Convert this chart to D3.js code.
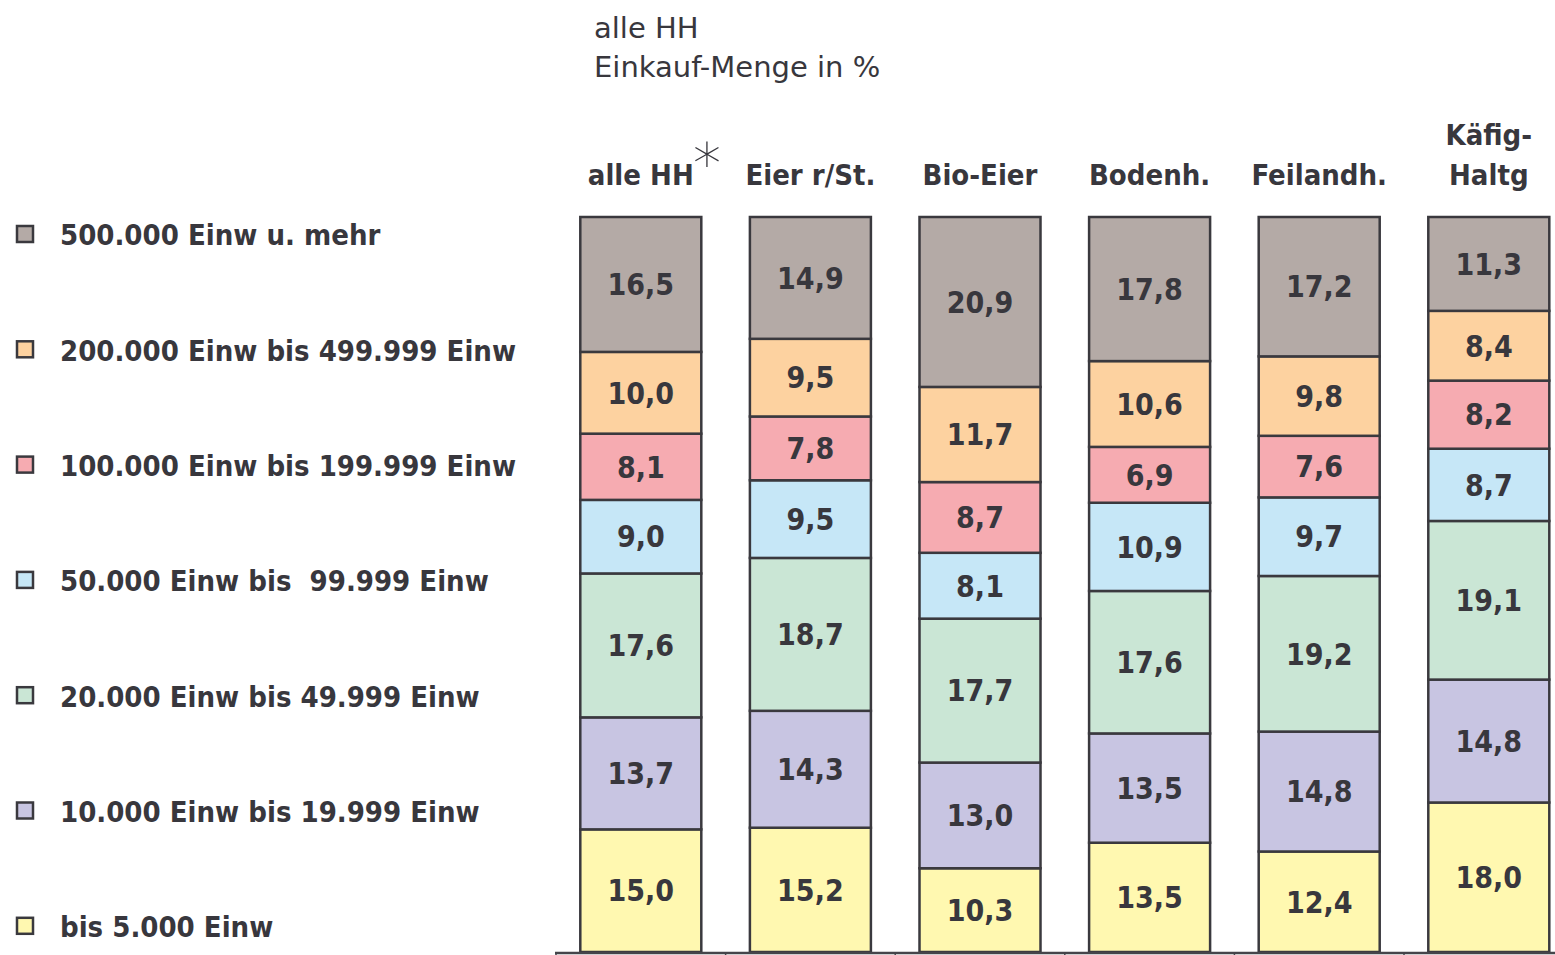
<!DOCTYPE html>
<html>
<head>
<meta charset="utf-8">
<script src="https://cdn.jsdelivr.net/npm/d3@7"></script>
<style>
  body { margin: 0; background: #fff; }
  svg text { font-family: "DejaVu Sans Condensed", "DejaVu Sans", sans-serif; fill: #38373d; }
</style>
</head>
<body>
<div id="chart"></div>
<script>
// Stacked bars, every column drawn to full height

// Data
var categories = ["alle HH", "Eier r/St.", "Bio-Eier", "Bodenh.", "Feilandh.", "Käfig-Haltg"];
var seriesNames = [
  "bis 5.000 Einw",
  "10.000 Einw bis 19.999 Einw",
  "20.000 Einw bis 49.999 Einw",
  "50.000 Einw bis  99.999 Einw",
  "100.000 Einw bis 199.999 Einw",
  "200.000 Einw bis 499.999 Einw",
  "500.000 Einw u. mehr"
];
var bis5000 = [15.0, 15.2, 10.3, 13.5, 12.4, 18.0];
var einw10000 = [13.7, 14.3, 13.0, 13.5, 14.8, 14.8];
var einw20000 = [17.6, 18.7, 17.7, 17.6, 19.2, 19.1];
var einw50000 = [9.0, 9.5, 8.1, 10.9, 9.7, 8.7];
var einw100000 = [8.1, 7.8, 8.7, 6.9, 7.6, 8.2];
var einw200000 = [10.0, 9.5, 11.7, 10.6, 9.8, 8.4];
var einw500000 = [16.5, 14.9, 20.9, 17.8, 17.2, 11.3];
var seriesValues = [bis5000, einw10000, einw20000, einw50000, einw100000, einw200000, einw500000];
var colors = ["#fff8b0", "#c8c5e2", "#cae6d5", "#c6e7f7", "#f6abb1", "#fdd2a0", "#b4aaa6"];

// Sizes
var width = 1555;
var height = 955;
var baseY = 952;
var topY = 217;

var svg = d3.select("#chart")
  .append("svg")
  .attr("width", width)
  .attr("height", height);

// Build rows for d3.stack
var rows = categories.map(function(c, i) {
  var row = { cat: c };
  seriesNames.forEach(function(s, j) {
    row[s] = seriesValues[j][i];
  });
  return row;
});

var stack = d3.stack()
  .keys(seriesNames)
  .offset(d3.stackOffsetExpand);
var layers = stack(rows);

var xScale = d3.scaleBand()
  .domain(categories)
  .range([556, 556 + 169.6 * categories.length]);
var barWidth = 121;

var yScale = d3.scaleLinear()
  .domain([0, 1])
  .range([baseY, topY]);

// Title
svg.append("text")
  .attr("x", 594)
  .attr("y", 38)
  .attr("font-size", 29)
  .style("font-family", "'DejaVu Sans', sans-serif")
  .text("alle HH");
svg.append("text")
  .attr("x", 594)
  .attr("y", 77)
  .attr("font-size", 29)
  .style("font-family", "'DejaVu Sans', sans-serif")
  .text("Einkauf-Menge in %");

// Bars
var layerG = svg.selectAll("g.layer")
  .data(layers)
  .enter()
  .append("g")
  .attr("class", "layer")
  .attr("fill", function(d, i) { return colors[i]; });

layerG.selectAll("rect")
  .data(function(d) { return d; })
  .enter()
  .append("rect")
  .attr("x", function(d) { return xScale(d.data.cat) + (xScale.bandwidth() - barWidth) / 2; })
  .attr("y", function(d) { return yScale(d[1]); })
  .attr("width", barWidth)
  .attr("height", function(d) { return yScale(d[0]) - yScale(d[1]); })
  .attr("stroke", "#3a393e")
  .attr("stroke-width", 2.5);

// Value labels
layers.forEach(function(layer) {
  svg.append("g")
    .selectAll("text")
    .data(layer)
    .enter()
    .append("text")
    .attr("x", function(d) { return xScale(d.data.cat) + xScale.bandwidth() / 2; })
    .attr("y", function(d) { return (yScale(d[0]) + yScale(d[1])) / 2; })
    .attr("dy", "0.36em")
    .attr("text-anchor", "middle")
    .attr("font-size", 30)
    .attr("font-weight", "bold")
    .text(function(d) { return d3.format(".1f")(d.data[layer.key]).replace(".", ","); });
});

// Baseline with category ticks
svg.append("line")
  .attr("x1", 555)
  .attr("x2", 1555)
  .attr("y1", baseY + 1)
  .attr("y2", baseY + 1)
  .attr("stroke", "#45454a")
  .attr("stroke-width", 2.5);
svg.append("g")
  .selectAll("line")
  .data(categories)
  .enter()
  .append("line")
  .attr("x1", function(d) { return xScale(d); })
  .attr("x2", function(d) { return xScale(d); })
  .attr("y1", baseY)
  .attr("y2", height)
  .attr("stroke", "#45454a")
  .attr("stroke-width", 1.5);

// Category labels
categories.forEach(function(c) {
  var cx = xScale(c) + xScale.bandwidth() / 2;
  var label = svg.append("text")
    .attr("x", cx)
    .attr("text-anchor", "middle")
    .attr("font-size", 29)
    .attr("font-weight", "bold");
  if (c === "Käfig-Haltg") {
    label.append("tspan").attr("x", cx).attr("y", 145).text("Käfig-");
    label.append("tspan").attr("x", cx).attr("y", 185).text("Haltg");
  }
  else {
    label.attr("y", 185).text(c);
  }
});

// Asterisk after "alle HH"
svg.append("text")
  .attr("x", 707)
  .attr("y", 183)
  .attr("text-anchor", "middle")
  .attr("font-size", 56)
  .style("font-family", "'DejaVu Sans', sans-serif")
  .style("font-weight", "200")
  .text("*");

// Legend (top series first)
var legendData = seriesNames.slice().reverse();
var legendColors = colors.slice().reverse();
var legend = svg.selectAll("g.legend")
  .data(legendData)
  .enter()
  .append("g")
  .attr("class", "legend")
  .attr("transform", function(d, i) { return "translate(0," + (235 + i * 115.3) + ")"; });

legend.append("rect")
  .attr("x", 17)
  .attr("y", -9)
  .attr("width", 16)
  .attr("height", 16)
  .attr("fill", function(d, i) { return legendColors[i]; })
  .attr("stroke", "#3a393e")
  .attr("stroke-width", 2.5);

legend.append("text")
  .attr("x", 60)
  .attr("y", 0)
  .attr("dy", "0.36em")
  .attr("font-size", 29)
  .attr("font-weight", "bold")
  .style("white-space", "pre")
  .text(function(d) { return d; });
</script>
</body>
</html>
